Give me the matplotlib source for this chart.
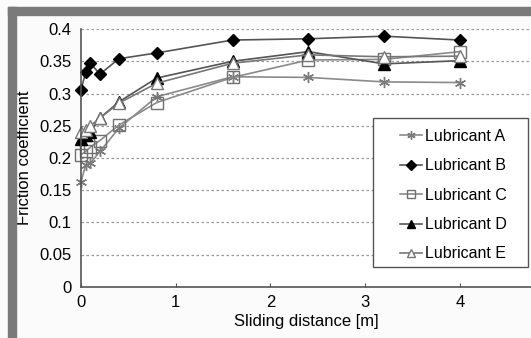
import matplotlib
matplotlib.use("Agg")
import matplotlib.pyplot as plt
from matplotlib.patches import Rectangle

plt.rcParams['font.family'] = ['Liberation Sans', 'DejaVu Sans']

# sliding distance [m]
distance = [0, 0.05, 0.1, 0.2, 0.4, 0.8, 1.6, 2.4, 3.2, 4.0]

lub_a = [0.163, 0.189, 0.192, 0.210, 0.246, 0.295, 0.326, 0.325, 0.318, 0.317]
lub_b = [0.306, 0.333, 0.347, 0.330, 0.354, 0.363, 0.383, 0.385, 0.389, 0.383]
lub_c = [0.205, 0.210, 0.217, 0.227, 0.251, 0.286, 0.325, 0.352, 0.353, 0.365]
lub_d = [0.230, 0.235, 0.240, 0.262, 0.287, 0.324, 0.350, 0.365, 0.346, 0.351]
lub_e = [0.240, 0.243, 0.250, 0.262, 0.285, 0.316, 0.347, 0.360, 0.357, 0.358]

labels = ['Lubricant A', 'Lubricant B', 'Lubricant C', 'Lubricant D', 'Lubricant E']
yticks = [0, 0.05, 0.1, 0.15, 0.2, 0.25, 0.3, 0.35, 0.4]
xticks = [0, 1, 2, 3, 4]

W, H = 531, 338
fig = plt.figure(figsize=(W / 100, H / 100), dpi=100)
fig.patch.set_facecolor('#fbfbfb')

# grey frame around the picture (top and left)
fig.patches.append(Rectangle((8 / W, 1 - 15 / H), 1, 8 / H,
                             transform=fig.transFigure, color='#7a7a7a', zorder=0))
fig.patches.append(Rectangle((8 / W, 0), 8 / W, 1 - 7 / H,
                             transform=fig.transFigure, color='#7a7a7a', zorder=0))

x0, x1, y0, y1 = 81, W, 286.7, 29.1
ax = fig.add_axes([x0 / W, (H - y0) / H, (x1 - x0) / W, (y0 - y1) / H])
ax.set_facecolor('white')

styles = [
    dict(color='#8a8a8a', marker=(6, 2, 0), ms=8, mfc='#8a8a8a', mec='#7a7a7a', mew=1.0),
    dict(color='#555555', marker='D', ms=6.5, mfc='black', mec='black'),
    dict(color='#8a8a8a', marker='s', ms=8, mfc='none', mec='#707070', mew=1.0),
    dict(color='#555555', marker='^', ms=8, mfc='black', mec='black'),
    dict(color='#777777', marker='^', ms=8, mfc='white', mec='#777777', mew=1.0),
]
series = [lub_a, lub_b, lub_c, lub_d, lub_e]

for vals, lab, st in zip(series, labels, styles):
    ax.plot(distance, vals, label=lab, lw=1.2, clip_on=False, **st)

ax.set_xlim(0, (x1 - x0) / 94.7)
ax.set_ylim(0, 0.4)
ax.set_xticks(xticks)
ax.set_yticks(yticks)
ax.set_xticklabels([str(t) for t in xticks])
ax.set_yticklabels(['0', '0.05', '0.1', '0.15', '0.2', '0.25', '0.3', '0.35', '0.4'])
ax.yaxis.grid(True, linestyle=(0, (2, 2)), color='#999999', lw=0.9)
ax.set_axisbelow(True)

for s in ['top', 'right']:
    ax.spines[s].set_visible(False)
for s in ['left', 'bottom']:
    ax.spines[s].set_color('#555555')
    ax.spines[s].set_linewidth(1.2)

ax.tick_params(axis='x', direction='in', length=3, color='#555555', labelsize=12, pad=6)
ax.tick_params(axis='y', direction='out', length=0, labelsize=12, pad=7)

ax.set_xlabel('Sliding distance [m]', fontsize=12, labelpad=3)
ax.set_ylabel('Friction coefficient', fontsize=12)
ax.yaxis.set_label_coords((32 - x0) / (x1 - x0), 0.5)


def ax_x(px):
    return (px - x0) / (x1 - x0)


def ax_y(py):
    return (y0 - py) / (y0 - y1)


# legend box (drawn separately so its padding matches the original)
box = Rectangle((ax_x(373), ax_y(267)), ax_x(528) - ax_x(373), ax_y(118) - ax_y(267),
                transform=ax.transAxes, facecolor='white', edgecolor='#555555',
                lw=1.0, clip_on=False, zorder=4)
ax.add_patch(box)

leg = ax.legend(loc='upper left', bbox_to_anchor=(ax_x(400), ax_y(129)),
                fontsize=11.5, frameon=False, borderaxespad=0, borderpad=0,
                handlelength=1.4, handletextpad=0.15, labelspacing=0.9,
                markerscale=0.75)
leg.set_zorder(5)

fig.savefig('out.png', dpi=100, facecolor=fig.get_facecolor())
